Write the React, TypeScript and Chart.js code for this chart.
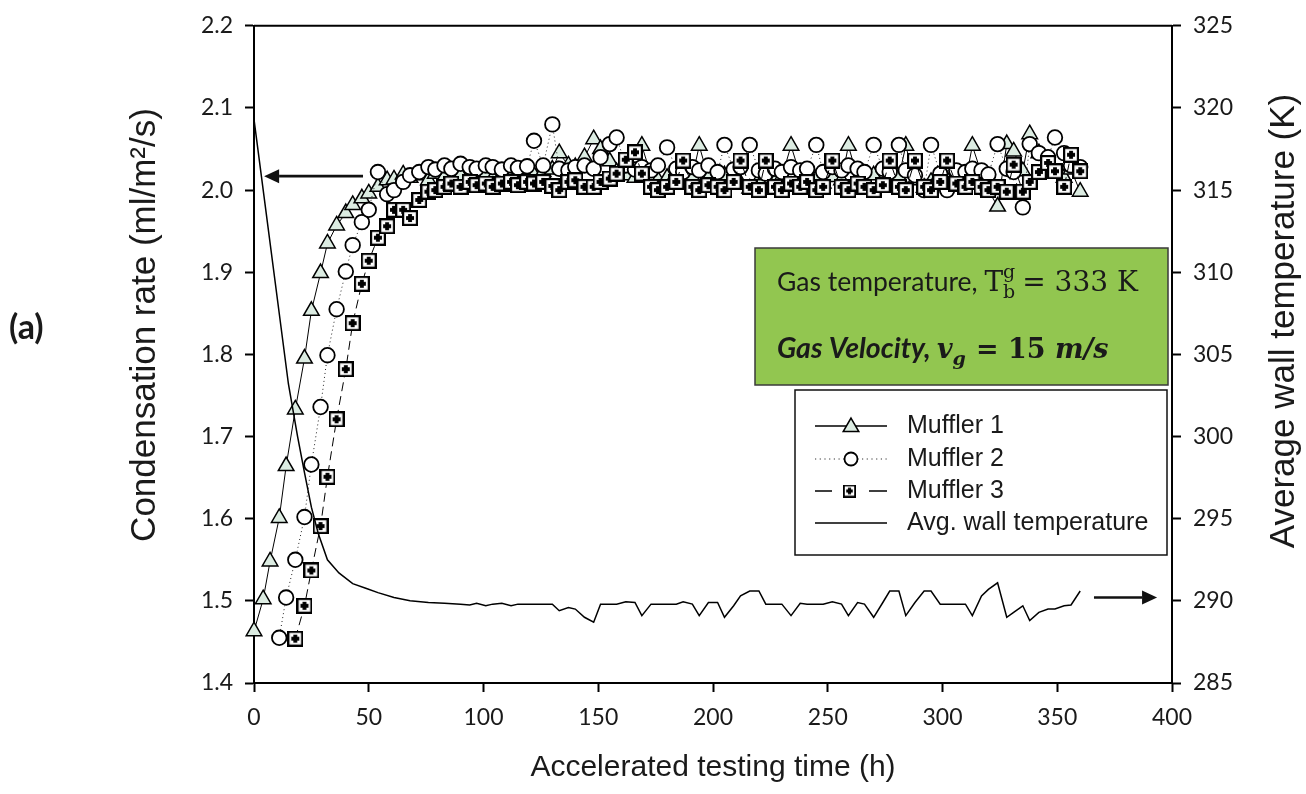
import React, { useEffect, useRef } from 'react';
import { Chart, registerables } from 'chart.js';

Chart.register(...registerables);

// ---- Data ----
const HOURS = [
  0, 4, 7, 11, 14, 18, 22, 25, 29, 32,
  36, 40, 43, 47, 50, 54, 58, 61, 65, 68,
  72, 76, 79, 83, 86, 90, 94, 97, 101, 104,
  108, 112, 115, 119, 122, 126, 130, 133, 137, 140,
  144, 148, 151, 155, 158, 162, 166, 169, 173, 176,
  180, 184, 187, 191, 194, 198, 202, 205, 209, 212,
  216, 220, 223, 227, 230, 234, 238, 241, 245, 248,
  252, 256, 259, 263, 266, 270, 274, 277, 281, 284,
  288, 292, 295, 299, 302, 306, 310, 313, 317, 320,
  324, 328, 331, 335, 338, 342, 346, 349, 353, 356,
  360,
];

const MUFFLER1 = [
  1.463, 1.502, 1.548, 1.601, 1.664, 1.733, 1.795, 1.853, 1.899, 1.935,
  1.957, 1.972, 1.982, 1.990, 1.996, 2.004, 2.012, 2.013, 2.019, 2.015,
  2.018, 2.012, 2.020, 2.016, 2.014, 2.018, 2.012, 2.016, 2.019, 2.014,
  2.017, 2.015, 2.021, 2.016, 2.018, 2.022, 2.025, 2.045, 2.030, 2.028,
  2.040, 2.062, 2.050, 2.035, 2.022, 2.018, 2.015, 2.054, 2.018, 2.012,
  2.015, 2.020, 2.012, 2.016, 2.054, 2.015, 2.010, 2.018, 2.014, 2.008,
  2.002, 2.012, 2.018, 2.010, 2.016, 2.054, 2.018, 2.010, 2.014, 2.008,
  2.016, 2.012, 2.054, 2.015, 2.010, 2.018, 2.012, 2.005, 2.016, 2.054,
  2.012, 2.003, 2.010, 2.020, 2.012, 2.016, 2.010, 2.054, 2.020, 2.000,
  1.980, 2.056, 2.047, 2.023, 2.068, 2.045, 2.030, 2.020, 2.015, 2.025,
  1.998,
];

const MUFFLER2 = [
  null, null, null, 1.455, 1.504, 1.550, 1.602, 1.666, 1.736, 1.799,
  1.855, 1.901, 1.933, 1.961, 1.976, 2.022, 1.995, 2.000, 2.010, 2.018,
  2.022, 2.028, 2.025, 2.030, 2.026, 2.032, 2.028, 2.026, 2.030, 2.028,
  2.025, 2.030, 2.027, 2.029, 2.060, 2.030, 2.080, 2.026, 2.024, 2.028,
  2.030, 2.026, 2.040, 2.056, 2.064, 2.030, 2.025, 2.028, 2.024, 2.030,
  2.052, 2.026, 2.022, 2.028, 2.024, 2.030, 2.022, 2.055, 2.025, 2.028,
  2.055, 2.024, 2.020, 2.026, 2.022, 2.028, 2.024, 2.026, 2.055, 2.022,
  2.028, 2.024, 2.030, 2.026, 2.022, 2.055, 2.026, 2.022, 2.055, 2.024,
  2.018, 2.000, 2.055, 2.020, 2.000, 2.024, 2.022, 2.026, 2.024, 2.019,
  2.056, 2.026, 2.022, 1.979, 2.056, 2.045, 2.040, 2.064, 2.045, 2.030,
  2.028,
];

const MUFFLER3 = [
  null, null, null, null, null, 1.454, 1.494, 1.537, 1.591, 1.651,
  1.721, 1.782, 1.838, 1.886, 1.914, 1.942, 1.956, 1.976, 1.976, 1.966,
  1.988, 1.998, 2.000, 2.004, 2.008, 2.004, 2.010, 2.006, 2.008, 2.004,
  2.008, 2.010, 2.006, 2.010, 2.008, 2.010, 2.005, 2.000, 2.010, 2.012,
  2.004, 2.004, 2.010, 2.014, 2.020, 2.037, 2.046, 2.020, 2.004, 2.000,
  2.004, 2.010, 2.036, 2.004, 2.000, 2.006, 2.004, 2.000, 2.010, 2.036,
  2.004, 2.000, 2.036, 2.004, 2.000, 2.008, 2.004, 2.010, 2.000, 2.004,
  2.036, 2.004, 2.000, 2.008, 2.004, 2.000, 2.006, 2.036, 2.004, 2.000,
  2.036, 2.004, 2.000, 2.010, 2.036, 2.008, 2.004, 2.010, 2.004, 2.000,
  2.004, 1.998, 2.031, 1.998, 2.010, 2.022, 2.033, 2.023, 2.004, 2.043,
  2.023,
];

const WALL_HOURS = [
  0, 15, 19, 22, 25, 28, 32, 37, 43, 49,
  54, 61, 68, 76, 83, 90, 94, 97, 101, 104,
  108, 112, 115, 119, 122, 126, 130, 133, 137, 140,
  144, 148, 151, 155, 158, 162, 166, 169, 173, 176,
  180, 184, 187, 191, 194, 198, 202, 205, 209, 212,
  216, 220, 223, 227, 230, 234, 238, 241, 245, 248,
  252, 256, 259, 263, 266, 270, 274, 277, 281, 284,
  288, 292, 295, 299, 302, 306, 310, 313, 317, 320,
  324, 328, 331, 335, 338, 342, 346, 349, 353, 356,
  360,
];

const WALL_TEMP = [
  319.3, 303.2, 300.0, 297.8, 295.7, 294.1, 292.5, 291.7, 291.05, 290.75,
  290.5, 290.2, 290.0, 289.9, 289.85, 289.8, 289.75, 289.85, 289.7, 289.8,
  289.85, 289.7, 289.8, 289.8, 289.8, 289.8, 289.8, 289.4, 289.6, 289.5,
  289.0, 288.7, 289.8, 289.8, 289.8, 289.95, 289.9, 289.1, 289.8, 289.8,
  289.8, 289.8, 289.95, 289.8, 289.1, 289.9, 289.9, 289.0, 289.7, 290.3,
  290.6, 290.6, 289.8, 289.8, 289.8, 289.1, 289.85, 289.8, 289.8, 289.8,
  289.95, 289.8, 289.1, 289.9, 289.8, 289.0, 289.9, 290.6, 290.6, 289.1,
  289.9, 290.6, 290.6, 289.8, 289.8, 289.8, 289.8, 289.1, 290.3, 290.7,
  291.1, 289.0, 289.3, 289.7, 288.8, 289.3, 289.5, 289.5, 289.7, 289.75,
  290.6,
];

const X_TICKS = [0, 50, 100, 150, 200, 250, 300, 350, 400];
const LEFT_TICKS = [1.4, 1.5, 1.6, 1.7, 1.8, 1.9, 2.0, 2.1, 2.2];
const RIGHT_TICKS = [285, 290, 295, 300, 305, 310, 315, 320, 325];

const SERIES_LABELS = ['Muffler 1', 'Muffler 2', 'Muffler 3', 'Avg. wall temperature'];
const X_TITLE = 'Accelerated testing time (h)';
const LEFT_TITLE = 'Condensation rate (ml/m\u00B2/s)';
const RIGHT_TITLE = 'Average wall temperature (K)';
const PANEL_LABEL = '(a)';

// arrow annotations (data units)
const LEFT_ARROW = { from: 47.5, to: 4.4, y: 2.017 };
const RIGHT_ARROW = { from: 366, to: 393.5, y: 290.2 };

const TRI_FILL = '#dcece2';
const INK = '#1a1a1a';

function toPoints(xs: number[], ys: (number | null)[]) {
  const out: { x: number; y: number }[] = [];
  xs.forEach((x, i) => {
    const v = ys[i];
    if (v !== null && v !== undefined) out.push({ x, y: v });
  });
  return out;
}

function makeSquareMarker(size: number, lw: number) {
  const c = document.createElement('canvas');
  c.width = size;
  c.height = size;
  const g = c.getContext('2d')!;
  g.fillStyle = '#fff';
  g.fillRect(0, 0, size, size);
  g.strokeStyle = '#000';
  g.lineWidth = lw;
  g.strokeRect(lw / 2, lw / 2, size - lw, size - lw);
  g.fillStyle = '#000';
  const m = size / 2;
  const a = size * 0.12;
  const b = size * 0.25;
  g.fillRect(m - a, m - b, 2 * a, 2 * b);
  g.fillRect(m - b, m - a, 2 * b, 2 * a);
  return c;
}

function drawTriangle(ctx: CanvasRenderingContext2D, x: number, y: number, r: number) {
  ctx.beginPath();
  let rad = 0;
  ctx.moveTo(x + Math.sin(rad) * r, y - Math.cos(rad) * r);
  rad += (2 * Math.PI) / 3;
  ctx.lineTo(x + Math.sin(rad) * r, y - Math.cos(rad) * r);
  rad += (2 * Math.PI) / 3;
  ctx.lineTo(x + Math.sin(rad) * r, y - Math.cos(rad) * r);
  ctx.closePath();
  ctx.fillStyle = TRI_FILL;
  ctx.fill();
  ctx.strokeStyle = '#000';
  ctx.lineWidth = 1.5;
  ctx.stroke();
}

function drawArrow(ctx: CanvasRenderingContext2D, x1: number, x2: number, y: number) {
  const dir = x2 > x1 ? 1 : -1;
  const headLen = 15;
  const half = 7;
  ctx.strokeStyle = '#111';
  ctx.fillStyle = '#111';
  ctx.lineWidth = 2.6;
  ctx.beginPath();
  ctx.moveTo(x1, y);
  ctx.lineTo(x2 - dir * headLen, y);
  ctx.stroke();
  ctx.beginPath();
  ctx.moveTo(x2, y);
  ctx.lineTo(x2 - dir * headLen, y - half);
  ctx.lineTo(x2 - dir * headLen, y + half);
  ctx.closePath();
  ctx.fill();
}

export default function App() {
  const ref = useRef<HTMLCanvasElement | null>(null);

  useEffect(() => {
    const canvas = ref.current;
    if (!canvas) return;
    const squareBig = makeSquareMarker(16, 2.2);
    const squareSmall = makeSquareMarker(13, 1.8);

    const decor = {
      id: 'decor',
      afterDraw(chart: any) {
        const { ctx, chartArea: ca, scales } = chart;
        const xs = scales.x;
        const yl = scales.y;
        const yr = scales.y2;
        ctx.save();

        // top frame
        ctx.strokeStyle = '#000';
        ctx.lineWidth = 2;
        ctx.beginPath();
        ctx.moveTo(ca.left, ca.top);
        ctx.lineTo(ca.right, ca.top);
        ctx.stroke();

        // axis titles (vertical)
        ctx.fillStyle = INK;
        ctx.textAlign = 'center';
        ctx.textBaseline = 'middle';
        ctx.font = '35px "Liberation Sans", Arial, sans-serif';
        ctx.save();
        ctx.translate(145, 325);
        ctx.rotate(-Math.PI / 2);
        ctx.fillText(LEFT_TITLE, 0, 0);
        ctx.restore();
        ctx.save();
        ctx.translate(1284, 321);
        ctx.rotate(-Math.PI / 2);
        ctx.fillText(RIGHT_TITLE, 0, 0);
        ctx.restore();

        // panel label
        ctx.textAlign = 'left';
        ctx.font = 'bold 34px Lato, sans-serif';
        ctx.fillText(PANEL_LABEL, 9, 328);

        // arrows
        drawArrow(ctx, xs.getPixelForValue(LEFT_ARROW.from), xs.getPixelForValue(LEFT_ARROW.to), yl.getPixelForValue(LEFT_ARROW.y));
        drawArrow(ctx, xs.getPixelForValue(RIGHT_ARROW.from), xs.getPixelForValue(RIGHT_ARROW.to), yr.getPixelForValue(RIGHT_ARROW.y));

        // green annotation box
        ctx.fillStyle = '#92c650';
        ctx.fillRect(755, 248, 413, 137);
        ctx.strokeStyle = '#3a3a3a';
        ctx.lineWidth = 1.5;
        ctx.strokeRect(755, 248, 413, 137);

        ctx.fillStyle = '#1a1a1a';
        ctx.textBaseline = 'alphabetic';
        ctx.textAlign = 'left';
        // line 1
        let tx = 777;
        let by = 291;
        ctx.font = '26.5px Lato, sans-serif';
        ctx.fillText('Gas temperature, ', tx, by);
        tx += ctx.measureText('Gas temperature, ').width;
        ctx.font = '28px "DejaVu Serif", serif';
        ctx.fillText('T', tx, by);
        tx += ctx.measureText('T').width;
        ctx.font = '19px "DejaVu Serif", serif';
        ctx.fillText('g', tx, by - 13);
        ctx.fillText('b', tx, by + 7);
        tx += ctx.measureText('b').width + 7;
        ctx.font = '28px "DejaVu Serif", serif';
        ctx.fillText('= 333 K', tx, by);
        // line 2
        tx = 777;
        by = 358;
        ctx.font = 'italic bold 28.5px Lato, sans-serif';
        ctx.fillText('Gas Velocity, ', tx, by);
        tx += ctx.measureText('Gas Velocity, ').width;
        ctx.font = 'italic bold 27px "DejaVu Serif", serif';
        ctx.fillText('v', tx, by);
        tx += ctx.measureText('v').width;
        ctx.font = 'italic bold 19px "DejaVu Serif", serif';
        ctx.fillText('g', tx, by + 7);
        tx += ctx.measureText('g').width + 10;
        ctx.font = 'bold 27px "DejaVu Serif", serif';
        ctx.fillText('= 15 ', tx, by);
        tx += ctx.measureText('= 15 ').width;
        ctx.font = 'italic bold 27px "DejaVu Serif", serif';
        ctx.fillText('m/s', tx, by);

        // legend box
        ctx.fillStyle = '#fff';
        ctx.fillRect(795, 390, 372, 165);
        ctx.strokeStyle = '#111';
        ctx.lineWidth = 1.5;
        ctx.strokeRect(795, 390, 372, 165);

        const rows = [426, 459, 491, 523];
        const lx1 = 815;
        const lx2 = 887;
        const mx = 851;
        ctx.lineWidth = 1.3;
        ctx.strokeStyle = '#000';
        // Muffler 1
        ctx.setLineDash([]);
        ctx.beginPath();
        ctx.moveTo(lx1, rows[0]);
        ctx.lineTo(lx2, rows[0]);
        ctx.stroke();
        drawTriangle(ctx, mx, rows[0] + 1, 9);
        // Muffler 2
        ctx.setLineDash([1.2, 3.5]);
        ctx.lineWidth = 1;
        ctx.strokeStyle = '#333';
        ctx.beginPath();
        ctx.moveTo(lx1, rows[1]);
        ctx.lineTo(lx2, rows[1]);
        ctx.stroke();
        ctx.setLineDash([]);
        ctx.beginPath();
        ctx.arc(mx, rows[1], 6.5, 0, Math.PI * 2);
        ctx.fillStyle = '#fff';
        ctx.fill();
        ctx.strokeStyle = '#000';
        ctx.lineWidth = 1.8;
        ctx.stroke();
        // Muffler 3
        ctx.lineWidth = 1.3;
        ctx.beginPath();
        ctx.moveTo(lx1, rows[2]);
        ctx.lineTo(lx1 + 17, rows[2]);
        ctx.moveTo(lx2 - 18, rows[2]);
        ctx.lineTo(lx2, rows[2]);
        ctx.stroke();
        ctx.drawImage(squareSmall, mx - 8, rows[2] - 6.5);
        // Avg wall temperature
        ctx.lineWidth = 1.5;
        ctx.beginPath();
        ctx.moveTo(lx1, rows[3]);
        ctx.lineTo(lx2, rows[3]);
        ctx.stroke();

        ctx.fillStyle = INK;
        ctx.font = '25px "Liberation Sans", Arial, sans-serif';
        ctx.textBaseline = 'middle';
        SERIES_LABELS.forEach((t, i) => ctx.fillText(t, 907, rows[i]));

        ctx.restore();
      },
    };

    const tickFont = { family: 'Lato, sans-serif', size: 23 };
    const gridOpts = {
      display: true,
      drawOnChartArea: false,
      drawTicks: true,
      tickLength: 9,
      tickWidth: 2,
      tickColor: '#000',
    };
    const borderOpts = { display: true, color: '#000', width: 2 };

    const chart = new Chart(canvas, {
      type: 'line',
      data: {
        datasets: [
          {
            label: SERIES_LABELS[0],
            data: toPoints(HOURS, MUFFLER1),
            yAxisID: 'y',
            borderColor: '#000',
            borderWidth: 1,
            pointStyle: 'triangle',
            pointRadius: 9,
            pointBackgroundColor: TRI_FILL,
            pointBorderColor: '#000',
            pointBorderWidth: 1.5,
            tension: 0,
            clip: false,
            order: 3,
          },
          {
            label: SERIES_LABELS[1],
            data: toPoints(HOURS, MUFFLER2),
            yAxisID: 'y',
            borderColor: '#222',
            borderWidth: 1,
            borderDash: [1, 3],
            pointStyle: 'circle',
            pointRadius: 7.3,
            pointBackgroundColor: '#fff',
            pointBorderColor: '#000',
            pointBorderWidth: 1.8,
            tension: 0,
            clip: false,
            order: 2,
          },
          {
            label: SERIES_LABELS[2],
            data: toPoints(HOURS, MUFFLER3),
            yAxisID: 'y',
            borderColor: '#000',
            borderWidth: 1,
            borderDash: [9, 5],
            pointStyle: squareBig,
            pointRadius: 8,
            tension: 0,
            clip: false,
            order: 1,
          },
          {
            label: SERIES_LABELS[3],
            data: toPoints(WALL_HOURS, WALL_TEMP),
            yAxisID: 'y2',
            borderColor: '#000',
            borderWidth: 1.5,
            pointRadius: 0,
            tension: 0,
            clip: false,
            order: 0,
          },
        ],
      },
      options: {
        animation: false,
        responsive: false,
        events: [],
        layout: { padding: { top: 22, left: 0, right: 0, bottom: 0 } },
        plugins: { legend: { display: false }, tooltip: { enabled: false } },
        scales: {
          x: {
            type: 'linear',
            position: 'bottom',
            min: 0,
            max: 400,
            afterBuildTicks: (s: any) => {
              s.ticks = X_TICKS.map((v) => ({ value: v }));
            },
            afterFit: (s: any) => {
              s.height = 111;
            },
            grid: gridOpts,
            border: borderOpts,
            ticks: {
              font: tickFont,
              color: INK,
              padding: 12,
              maxRotation: 0,
              autoSkip: false,
              callback: (v: any) => String(v),
            },
            title: {
              display: true,
              text: X_TITLE,
              font: { family: '"Liberation Sans", Arial, sans-serif', size: 30 },
              color: INK,
              padding: { top: 0, bottom: 8 },
            },
          },
          y: {
            type: 'linear',
            position: 'left',
            min: 1.4,
            max: 2.2,
            afterBuildTicks: (s: any) => {
              s.ticks = LEFT_TICKS.map((v) => ({ value: v }));
            },
            afterFit: (s: any) => {
              s.width = 254;
            },
            grid: gridOpts,
            border: borderOpts,
            ticks: {
              font: tickFont,
              color: INK,
              padding: 12,
              autoSkip: false,
              callback: (v: any) => Number(v).toFixed(1),
            },
          },
          y2: {
            type: 'linear',
            position: 'right',
            min: 285,
            max: 325,
            afterBuildTicks: (s: any) => {
              s.ticks = RIGHT_TICKS.map((v) => ({ value: v }));
            },
            afterFit: (s: any) => {
              s.width = 134;
            },
            grid: gridOpts,
            border: borderOpts,
            ticks: {
              font: tickFont,
              color: INK,
              padding: 12,
              autoSkip: false,
              callback: (v: any) => String(v),
            },
          },
        },
      },
      plugins: [decor],
    } as any);

    return () => {
      chart.destroy();
    };
  }, []);

  return (
    <div style={{ position: 'absolute', left: 0, top: 0, width: 1306, height: 794, background: '#fff' }}>
      <canvas ref={ref} width={1306} height={794} style={{ display: 'block', width: 1306, height: 794 }} />
    </div>
  );
}
